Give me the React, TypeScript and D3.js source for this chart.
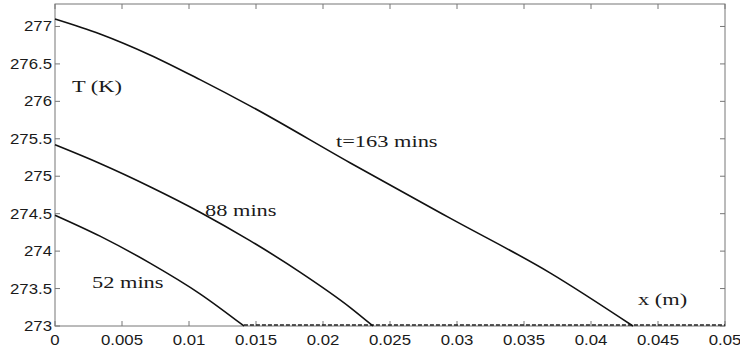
import React from 'react';
import * as d3 from 'd3';

// distance along the slab (m) and temperature (K) for each time
const x163 = [0, 0.00336, 0.00709, 0.01082, 0.01455, 0.02201, 0.02948, 0.03694, 0.04313];
const t163 = [277.1, 276.9, 276.62, 276.29, 275.94, 275.18, 274.44, 273.71, 273.0];

const x88 = [0, 0.00336, 0.00709, 0.01082, 0.01455, 0.01828, 0.02201, 0.02373];
const t88 = [275.42, 275.17, 274.86, 274.52, 274.14, 273.72, 273.25, 273.0];

const x52 = [0, 0.00336, 0.00709, 0.01082, 0.0141];
const t52 = [274.48, 274.2, 273.84, 273.43, 273.0];

const xTicks = [0, 0.005, 0.01, 0.015, 0.02, 0.025, 0.03, 0.035, 0.04, 0.045, 0.05];
const xTickLabels = ['0', '0.005', '0.01', '0.015', '0.02', '0.025', '0.03', '0.035', '0.04', '0.045', '0.05'];
const yTicks = [273, 273.5, 274, 274.5, 275, 275.5, 276, 276.5, 277];
const yTickLabels = ['273', '273.5', '274', '274.5', '275', '275.5', '276', '276.5', '277'];

const W = 740;
const H = 359;
const margin = { top: 4, right: 15, bottom: 33, left: 55 };

const serif = '"Liberation Serif", "DejaVu Serif", serif';
const sans = '"Liberation Sans", Arial, sans-serif';

// the original picture is stretched sideways, so text gets a horizontal scale
const Label = ({ x, y, anchor = 'start', family, size, sx, children }: any) => (
  <text
    transform={`translate(${x},${y}) scale(${sx},1)`}
    textAnchor={anchor}
    fontFamily={family}
    fontSize={size}
    fill="#1a1a1a"
  >
    {children}
  </text>
);

const App = () => {
  const x = d3.scaleLinear().domain([0, 0.05]).range([margin.left, W - margin.right]);
  const y = d3.scaleLinear().domain([273, 277.3]).range([H - margin.bottom, margin.top]);

  const line = d3
    .line<[number, number]>()
    .x(d => x(d[0]))
    .y(d => y(d[1]))
    .curve(d3.curveMonotoneX);

  const curves = [
    x163.map((v, i) => [v, t163[i]] as [number, number]),
    x88.map((v, i) => [v, t88[i]] as [number, number]),
    x52.map((v, i) => [v, t52[i]] as [number, number]),
  ];

  const x0 = margin.left;
  const x1 = W - margin.right;
  const y0 = margin.top;
  const y1 = H - margin.bottom;
  const tickLen = 5;
  const boxCol = '#777';

  return (
    <svg width={W} height={H} style={{ position: 'absolute', left: 0, top: 0, background: '#fff' }}>
      <rect x={x0} y={y0} width={x1 - x0} height={y1 - y0} fill="none" stroke={boxCol} strokeWidth={1} />

      {/* ticks pointing inward on all sides */}
      {xTicks.map((t, i) => (
        <g key={'xt' + i}>
          <line x1={x(t)} x2={x(t)} y1={y1} y2={y1 - tickLen} stroke={boxCol} />
          <line x1={x(t)} x2={x(t)} y1={y0} y2={y0 + tickLen} stroke={boxCol} />
          <Label x={x(t)} y={345} anchor="middle" family={sans} size={14} sx={1.2}>
            {xTickLabels[i]}
          </Label>
        </g>
      ))}
      {yTicks.map((t, i) => (
        <g key={'yt' + i}>
          <line x1={x0} x2={x0 + tickLen} y1={y(t)} y2={y(t)} stroke={boxCol} />
          <line x1={x1} x2={x1 - tickLen} y1={y(t)} y2={y(t)} stroke={boxCol} />
          <Label x={52} y={y(t) + 5} anchor="end" family={sans} size={14} sx={1.2}>
            {yTickLabels[i]}
          </Label>
        </g>
      ))}

      {/* frozen region along the bottom */}
      <line
        x1={x(0.0141)}
        x2={x(0.05)}
        y1={y(273) - 1}
        y2={y(273) - 1}
        stroke="#222"
        strokeWidth={1.5}
        strokeDasharray="4,2"
      />

      {curves.map((c, i) => (
        <path key={'c' + i} d={line(c) || ''} fill="none" stroke="#111" strokeWidth={1.6} />
      ))}

      <Label x={72} y={92} family={serif} size={16} sx={1.4}>T (K)</Label>
      <Label x={336} y={147} family={serif} size={16} sx={1.4}>t=163 mins</Label>
      <Label x={205} y={216} family={serif} size={16} sx={1.4}>88 mins</Label>
      <Label x={92} y={288} family={serif} size={16} sx={1.4}>52 mins</Label>
      <Label x={638} y={305} family={serif} size={16} sx={1.4}>x (m)</Label>
    </svg>
  );
};

export default App;
